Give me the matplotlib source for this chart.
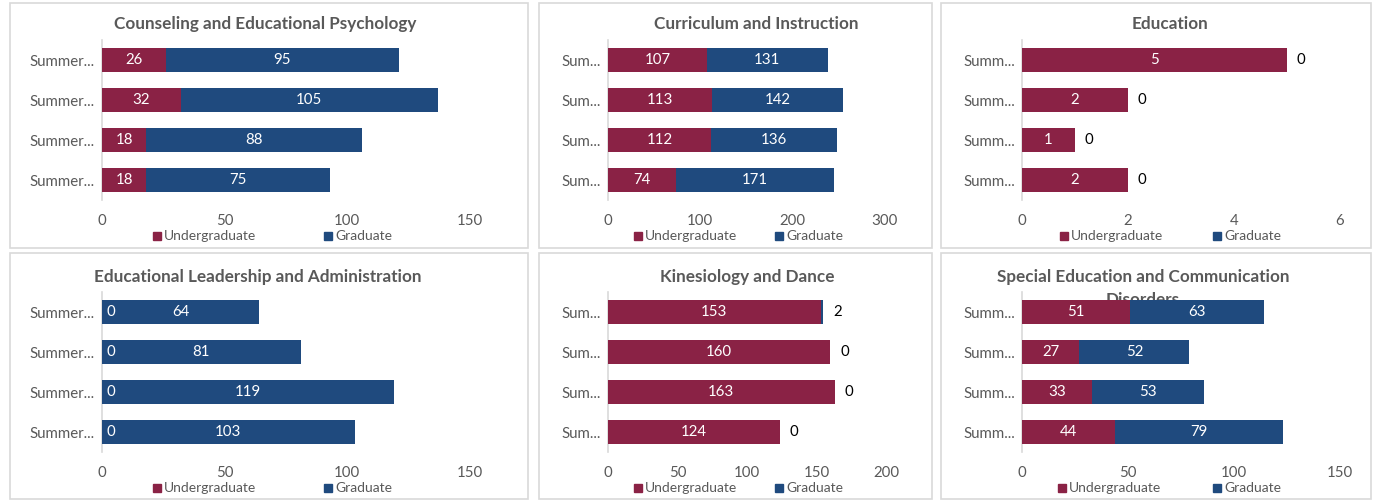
import matplotlib
matplotlib.use("Agg")
import matplotlib.pyplot as plt
from matplotlib.patches import Rectangle

# Summer enrolment by department, rows listed top to bottom
counseling_ug = [26, 32, 18, 18]
counseling_grad = [95, 105, 88, 75]
curriculum_ug = [107, 113, 112, 74]
curriculum_grad = [131, 142, 136, 171]
education_ug = [5, 2, 1, 2]
education_grad = [0, 0, 0, 0]
leadership_ug = [0, 0, 0, 0]
leadership_grad = [64, 81, 119, 103]
kinesiology_ug = [153, 160, 163, 124]
kinesiology_grad = [2, 0, 0, 0]
special_ed_ug = [51, 27, 33, 44]
special_ed_grad = [63, 52, 53, 79]

titles = ["Counseling and Educational Psychology", "Curriculum and Instruction",
          "Education", "Educational Leadership and Administration",
          "Kinesiology and Dance", "Special Education and Communication\nDisorders"]
row_labels = ["Summer...", "Sum...", "Summ...", "Summer...", "Sum...", "Summ..."]
x_ticks = [[0, 50, 100, 150], [0, 100, 200, 300], [0, 2, 4, 6],
           [0, 50, 100, 150], [0, 50, 100, 150, 200], [0, 50, 100, 150]]
series_names = ["Undergraduate", "Graduate"]

UG_COLOR = "#8A2245"
GRAD_COLOR = "#1F4A7E"
TEXT_COLOR = "#595959"
LINE_COLOR = "#D9D9D9"
W, H = 1373, 501

plt.rcParams["font.family"] = ["Lato", "DejaVu Sans"]

fig = plt.figure(figsize=(W / 100, H / 100), dpi=100)
fig.patch.set_facecolor("white")

# pixel layout: chart frame, plot area, title centre, legend swatch x's
frames = [(10, 3, 528, 248), (539, 3, 932, 248), (941, 3, 1371, 248),
          (10, 253, 528, 499), (539, 253, 932, 499), (941, 253, 1371, 499)]
plot_x = [(102, 470), (608, 885), (1022, 1340), (102, 470), (608, 886), (1022, 1340)]
title_pos = [(265, 24), (756, 24), (1170, 24), (258, 277), (747, 277), (1143, 277)]
legend_x = [(153, 324), (634, 775), (1060, 1213), (153, 324), (634, 775), (1058, 1213)]

panels = [(counseling_ug, counseling_grad), (curriculum_ug, curriculum_grad),
          (education_ug, education_grad), (leadership_ug, leadership_grad),
          (kinesiology_ug, kinesiology_grad), (special_ed_ug, special_ed_grad)]


def px_rect(x0, y0, x1, y1):
    return [x0 / W, 1 - y1 / H, (x1 - x0) / W, (y1 - y0) / H]


for k, (ug, grad) in enumerate(panels):
    fx0, fy0, fx1, fy1 = frames[k]
    fig.add_artist(Rectangle((fx0 / W, 1 - fy1 / H), (fx1 - fx0) / W, (fy1 - fy0) / H,
                             transform=fig.transFigure, fill=False,
                             edgecolor=LINE_COLOR, linewidth=1.2))

    top = 40 if k < 3 else 292
    x0, x1 = plot_x[k]
    ax = fig.add_axes(px_rect(x0, top, x1, top + 160))
    ax.patch.set_alpha(0)

    rows = list(range(len(ug)))
    xmax = x_ticks[k][-1]
    ax.barh(rows, ug, height=0.58, color=UG_COLOR, zorder=3)
    ax.barh(rows, grad, left=ug, height=0.58, color=GRAD_COLOR, zorder=3)

    for i in rows:
        u, g = ug[i], grad[i]
        if u > 0:
            ax.text(u / 2, i, str(u), color="white", ha="center", va="center",
                    fontsize=10.8, zorder=4)
        else:
            ax.annotate(str(u), (0, i), xytext=(9, 0), textcoords="offset pixels",
                        color="white", ha="center", va="center", fontsize=10.8, zorder=4)
        if g / xmax >= 0.03:
            ax.text(u + g / 2, i, str(g), color="white", ha="center", va="center",
                    fontsize=10.8, zorder=4)
        else:
            ax.annotate(str(g), (u + g, i), xytext=(14, 0), textcoords="offset pixels",
                        color="black", ha="center", va="center", fontsize=10.8, zorder=4)

    ax.set_xlim(0, xmax)
    ax.set_ylim(len(ug) - 0.5, -0.5)
    ax.set_xticks(x_ticks[k])
    ax.set_yticks(rows)
    ax.set_yticklabels([row_labels[k]] * len(ug))
    ax.tick_params(axis="both", length=0, labelsize=10.8, labelcolor=TEXT_COLOR)
    ax.tick_params(axis="x", pad=10)
    ax.tick_params(axis="y", pad=5)
    for side in ["top", "right", "bottom"]:
        ax.spines[side].set_visible(False)
    ax.spines["left"].set_color(LINE_COLOR)
    ax.spines["left"].set_linewidth(1.2)

    # title lines drawn in the axes so the bars sit on top of them
    tx, ty = title_pos[k]
    for n, line in enumerate(titles[k].split("\n")):
        ax.text(tx / W, 1 - (ty + 23 * n) / H, line, transform=fig.transFigure,
                ha="center", va="center", fontsize=12.3, fontweight="bold",
                color=TEXT_COLOR, zorder=1, clip_on=False)

    # legend
    ly = 236 if k < 3 else 488
    for name, color, sx in zip(series_names, [UG_COLOR, GRAD_COLOR], legend_x[k]):
        fig.add_artist(Rectangle((sx / W, 1 - (ly + 4) / H), 8 / W, 8 / H,
                                 transform=fig.transFigure, color=color))
        fig.text((sx + 11) / W, 1 - ly / H, name, ha="left", va="center",
                 fontsize=10, color=TEXT_COLOR)

fig.savefig("out.png", dpi=100, facecolor="white")
